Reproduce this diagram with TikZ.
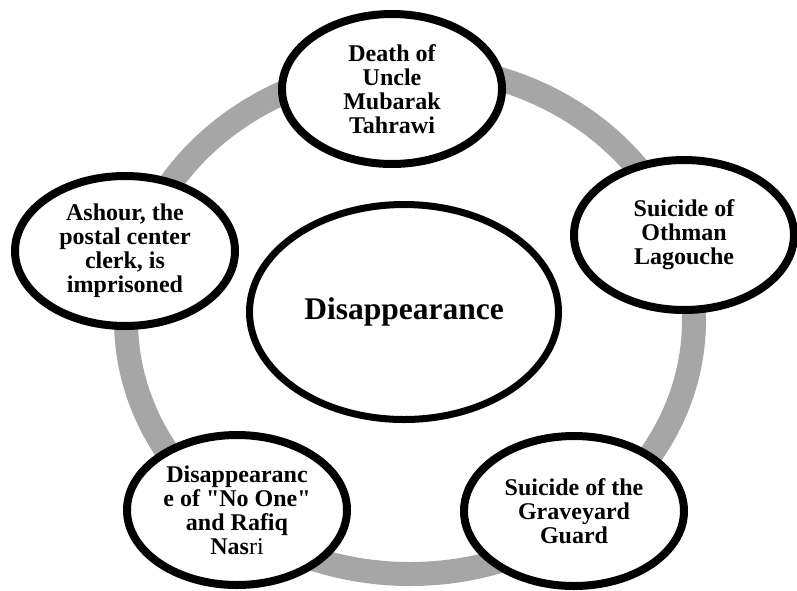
\documentclass[tikz,border=0pt]{standalone}
\usepackage{fontspec}
\setmainfont{Liberation Serif}[Ligatures=TeXOff]
\usetikzlibrary{shapes.geometric}
\tikzstyle{ev}=[ellipse,draw=black,line width=8pt,fill=white,minimum width=220pt,minimum height=150pt,inner sep=0pt,align=center,font=\fontsize{24}{24}\selectfont\bfseries]
\tikzstyle{core}=[ev,line width=7pt,minimum width=309pt,minimum height=215pt,font=\fontsize{31.5}{34}\selectfont\bfseries]

\begin{document}
\begin{tikzpicture}[x=1pt,y=-1pt]
\useasboundingbox (0,0) rectangle (797,590);
\draw[black!35,line width=24pt] (410,320) ellipse [x radius=284, y radius=254];
\node[core] (dis) at (404,312) {Disappearance};
\node[ev] (death) at (392,89) {Death of\\Uncle\\Mubarak\\Tahrawi};
\node[ev] (othman) at (684,235) {Suicide of\\Othman\\Lagouche};
\node[ev] (guard) at (574,511) {Suicide of the\\Graveyard\\Guard};
\node[ev] (noone) at (237,510) {Disappearanc\\e of "No One"\\and Rafiq\\Nas{\mdseries ri}};
\node[ev] (ashour) at (125,251) {Ashour, the\\postal center\\clerk, is\\imprisoned};
\end{tikzpicture}
\end{document}
